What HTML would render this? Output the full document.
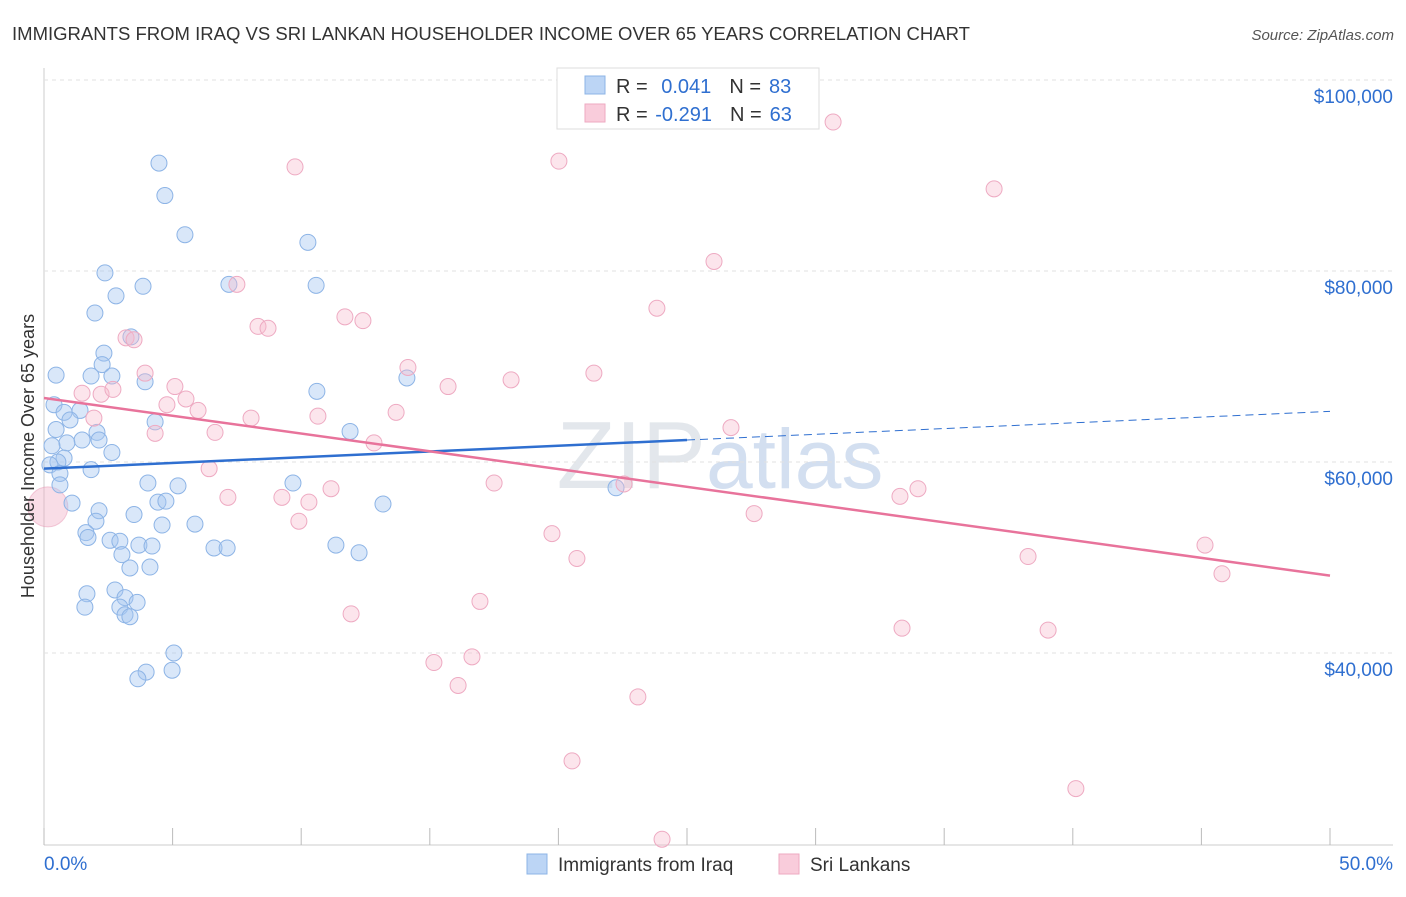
<!DOCTYPE html>
<html><head><meta charset="utf-8"><style>
body{margin:0;background:#fff;font-family:"Liberation Sans",sans-serif;}
svg text{font-family:"Liberation Sans",sans-serif;}
</style></head><body>
<svg id="chart" width="1406" height="892">
<text x="12" y="40" font-size="18" fill="#333" textLength="958" lengthAdjust="spacingAndGlyphs">IMMIGRANTS FROM IRAQ VS SRI LANKAN HOUSEHOLDER INCOME OVER 65 YEARS CORRELATION CHART</text>
<text x="1394" y="40" font-size="15" fill="#555" font-style="italic" text-anchor="end">Source: ZipAtlas.com</text>
<text x="720" y="488" font-size="96" fill="#e3e7ec" text-anchor="middle" font-family="Liberation Serif">ZIP<tspan fill="#d3dff0" font-family="Liberation Sans" font-size="84">atlas</tspan></text>
<g id="grid"></g><g id="pts"></g><g id="trend"></g>
<text transform="translate(34,456) rotate(-90)" font-size="18" fill="#333" text-anchor="middle">Householder Income Over 65 years</text>
<g>
<rect x="557" y="68" width="262" height="61" fill="#fff" stroke="#ddd"/>
<rect x="585" y="76" width="20" height="18" fill="#bcd5f5" stroke="#8db4e6"/>
<rect x="585" y="104" width="20" height="18" fill="#f9ccdb" stroke="#eeaac2"/>
<text x="616" y="93" font-size="20" fill="#333">R = <tspan fill="#2f6fd0" dx="8">0.041</tspan><tspan dx="18" fill="#333">N =</tspan><tspan fill="#2f6fd0" dx="8">83</tspan></text>
<text x="616" y="121" font-size="20" fill="#333">R = <tspan fill="#2f6fd0" dx="2">-0.291</tspan><tspan dx="18" fill="#333">N =</tspan><tspan fill="#2f6fd0" dx="8">63</tspan></text>
</g>
<g>
<rect x="527" y="854" width="20" height="20" fill="#bcd5f5" stroke="#8db4e6"/>
<text x="558" y="871" font-size="19" fill="#333">Immigrants from Iraq</text>
<rect x="779" y="854" width="20" height="20" fill="#f9ccdb" stroke="#eeaac2"/>
<text x="810" y="871" font-size="19" fill="#333">Sri Lankans</text>
</g>
</svg>
<script>
const xTicks=[0,5,10,15,20,25,30,35,40,45,50];
const yTicks=[40000,60000,80000,100000];
const yTickLabels=["$40,000","$60,000","$80,000","$100,000"];
const iraqX=[4.47,4.70,5.48,10.26,2.37,3.85,2.80,7.19,10.58,1.98,3.38,2.33,2.26,0.47,1.83,2.64,3.93,14.11,10.61,0.39,0.78,1.40,1.01,4.32,11.90,0.47,2.06,1.48,2.14,0.89,0.31,2.64,0.78,0.54,0.23,1.83,0.62,4.04,5.21,9.68,22.24,0.62,1.09,4.43,4.74,13.18,2.14,3.50,2.02,4.59,5.87,1.63,1.71,2.57,2.95,3.69,4.20,11.35,3.03,6.61,7.12,12.25,3.34,4.12,1.67,2.76,3.15,1.59,2.95,3.62,3.15,3.34,5.05,4.98,3.97,3.65];
const iraqY=[91.3,87.9,83.8,83.0,79.8,78.4,77.4,78.6,78.5,75.6,73.1,71.4,70.2,69.1,69.0,69.0,68.4,68.8,67.4,66.0,65.2,65.4,64.4,64.2,63.2,63.4,63.1,62.3,62.3,62.0,61.7,61.0,60.4,60.0,59.7,59.2,58.8,57.8,57.5,57.8,57.3,57.6,55.7,55.8,55.9,55.6,54.9,54.5,53.8,53.4,53.5,52.6,52.1,51.8,51.7,51.3,51.2,51.3,50.3,51.0,51.0,50.5,48.9,49.0,46.2,46.6,45.8,44.8,44.8,45.3,44.0,43.8,40.0,38.2,38.0,37.3];
const sriX=[30.68,20.02,9.76,36.94,26.05,7.50,23.83,11.70,12.40,8.32,8.71,3.19,3.50,3.93,14.15,21.38,18.16,15.71,1.48,2.22,2.68,5.09,5.52,5.99,4.78,1.94,13.69,10.65,8.05,6.65,4.32,26.71,12.83,6.42,17.50,22.55,11.16,33.98,7.15,9.25,10.30,33.28,9.91,27.61,19.75,20.72,38.26,45.14,45.80,16.95,11.94,33.36,39.04,15.16,16.64,16.10,23.09,20.53,40.12,24.03];
const sriY=[95.6,91.5,90.9,88.6,81.0,78.6,76.1,75.2,74.8,74.2,74.0,73.0,72.8,69.3,69.9,69.3,68.6,67.9,67.2,67.1,67.6,67.9,66.6,65.4,66.0,64.6,65.2,64.8,64.6,63.1,63.0,63.6,62.0,59.3,57.8,57.7,57.2,57.2,56.3,56.3,55.8,56.4,53.8,54.6,52.5,49.9,50.1,51.3,48.3,45.4,44.1,42.6,42.4,39.0,39.6,36.6,35.4,28.7,25.8,20.5];
const iraqTrend=[59.3,65.3];
const sriTrend=[66.7,48.1];
const NS="http://www.w3.org/2000/svg";
const xs=v=>44+v*25.72;
const ys=v=>80+(100000-v)*191/20000;
function mk(tag,attrs,parent){const e=document.createElementNS(NS,tag);for(const k in attrs)e.setAttribute(k,attrs[k]);parent.appendChild(e);return e;}
const grid=document.getElementById('grid'),pts=document.getElementById('pts'),tr=document.getElementById('trend');
mk('line',{x1:44,y1:68,x2:44,y2:845,stroke:'#ccc'},grid);
mk('line',{x1:44,y1:845,x2:1393,y2:845,stroke:'#ccc'},grid);
yTicks.forEach((t,i)=>{
 const g=mk('line',{x1:44,y1:ys(t),x2:1393,y2:ys(t),stroke:'#e2e2e2','stroke-dasharray':'4,4'},grid);
 
 
 const l=mk('text',{x:1393,y:ys(t)+23,'font-size':19,fill:'#2f6fd0','text-anchor':'end'},grid);
 l.textContent=yTickLabels[i];
 
 
});
xTicks.forEach(t=>{
 const e=mk('line',{x1:xs(t),y1:828,x2:xs(t),y2:845,stroke:'#bbb'},grid);
 
 
});
const xl0=mk('text',{x:44,y:870,'font-size':19,fill:'#2f6fd0'},grid);xl0.textContent='0.0%';


const xl1=mk('text',{x:1393,y:870,'font-size':19,fill:'#2f6fd0','text-anchor':'end'},grid);xl1.textContent='50.0%';


const big=mk('circle',{cx:xs(0.15),cy:ys(55300),r:20,fill:'rgba(240,170,195,0.4)',stroke:'rgba(232,154,181,0.5)'},pts);


iraqX.forEach((x,i)=>{
 const c=mk('circle',{cx:xs(x),cy:ys(iraqY[i]*1000),r:8,fill:'rgba(165,198,240,0.42)',stroke:'#8db4e6','stroke-width':1},pts);
 
 
});
sriX.forEach((x,i)=>{
 const c=mk('circle',{cx:xs(x),cy:ys(sriY[i]*1000),r:8,fill:'rgba(246,186,206,0.38)',stroke:'#eeaac2','stroke-width':1},pts);
 
 
});
const iy=x=>iraqTrend[0]+(iraqTrend[1]-iraqTrend[0])*x/50;
let l1=mk('line',{x1:xs(0),y1:ys(iy(0)*1000),x2:xs(25),y2:ys(iy(25)*1000),stroke:'#2f6fd0','stroke-width':2.5},tr);


let l2=mk('line',{x1:xs(25),y1:ys(iy(25)*1000),x2:xs(50),y2:ys(iy(50)*1000),stroke:'#2f6fd0','stroke-width':1,'stroke-dasharray':'8,5'},tr);


let l3=mk('line',{x1:xs(0),y1:ys(sriTrend[0]*1000),x2:xs(50),y2:ys(sriTrend[1]*1000),stroke:'#e8739b','stroke-width':2.5},tr);


</script>
</body></html>
